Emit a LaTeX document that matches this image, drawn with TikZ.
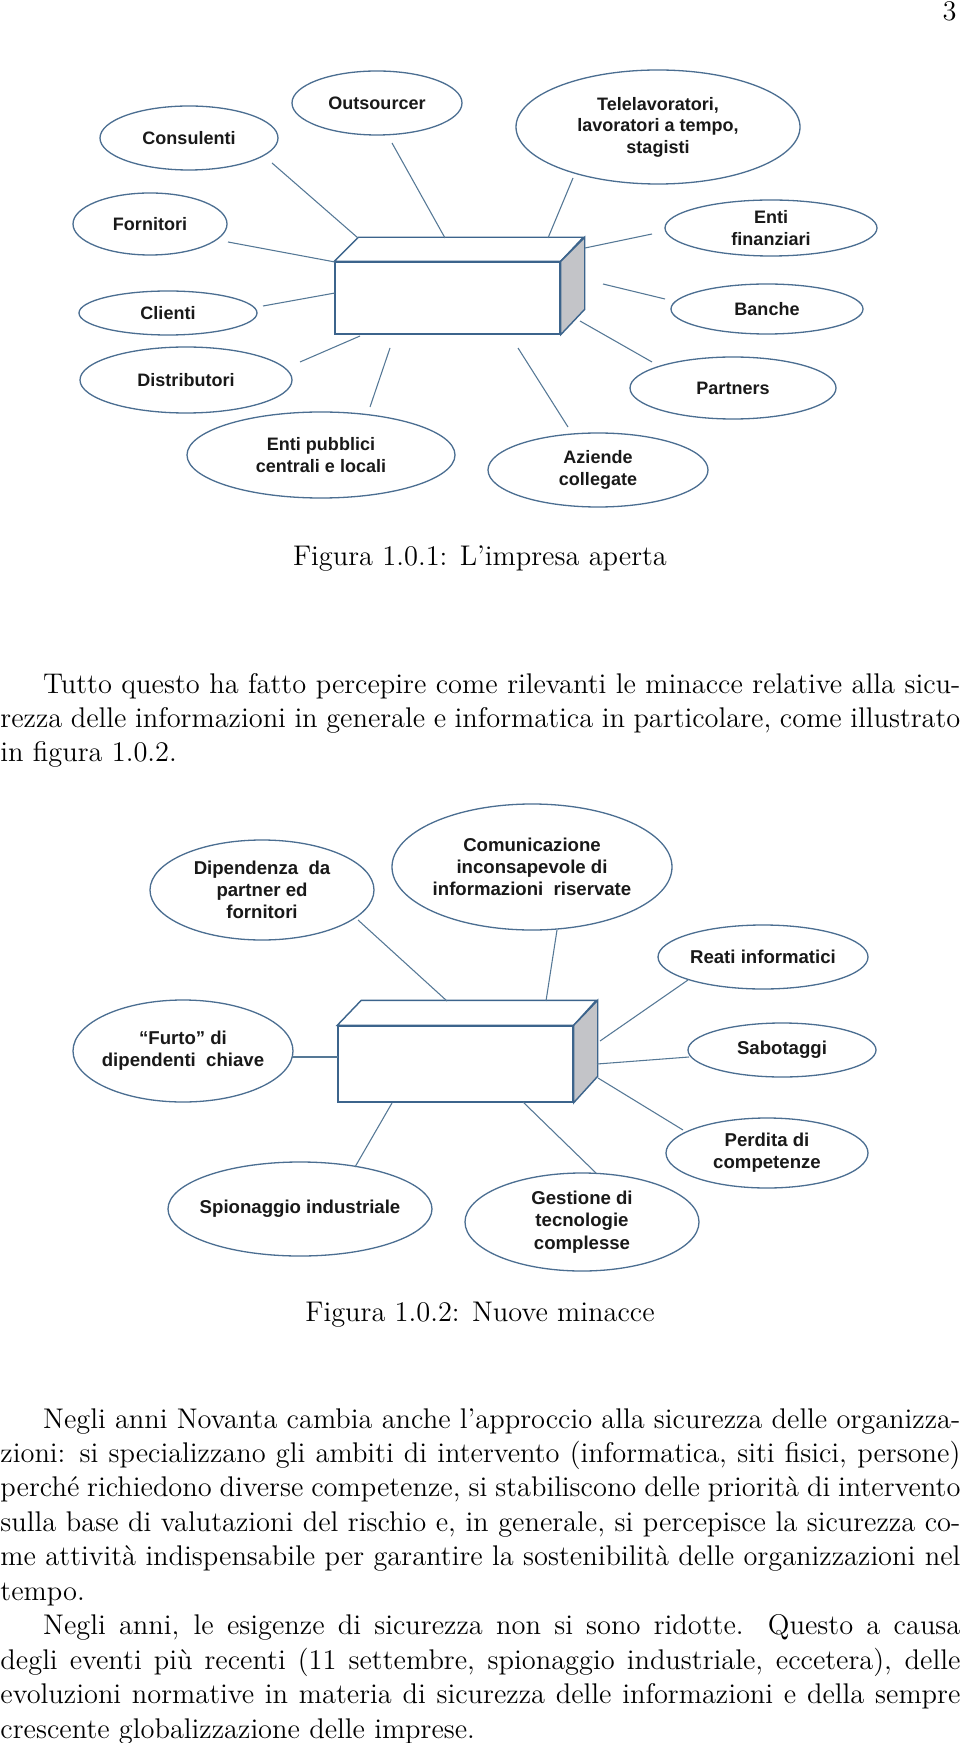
\documentclass[tikz,border=0pt]{standalone}
\usepackage{fontspec}
\newfontfamily\lsans{Liberation Sans}
\usetikzlibrary{shapes.geometric}
\definecolor{ellc}{RGB}{75,110,145}
\definecolor{linec}{RGB}{85,120,150}
\definecolor{boxc}{RGB}{60,100,140}
\definecolor{sidec}{RGB}{195,196,200}
\definecolor{txtc}{RGB}{25,25,25}
\def\px{0.4219pt}
\newcommand\ellnode[7]{%
  \node[ell,minimum width=2*#4*\px,minimum height=2*#5*\px] (#1) at (#2,#3) {};
  \node[#6] (#1t) at (#1) {#7};}
\newcommand\cnx[3]{%
  \coordinate (#1a) at (#2);
  \coordinate (#1b) at (#3);
  \draw[conn] (#1a) -- (#1b);}
\newcommand\jl[1]{\makebox[405pt][s]{#1}}
\begin{document}
\begin{tikzpicture}[x=0.4219pt,y=-0.4219pt,
 ell/.style={ellipse,draw=ellc,line width=0.55pt,fill=white,inner sep=0pt},
 etxt/.style={inner sep=0pt,align=center,text=txtc,font=\lsans\bfseries\fontsize{7.6}{9.1}\selectfont},
 etxtb/.style={inner sep=0pt,align=center,text=txtc,font=\lsans\bfseries\fontsize{7.85}{9.4}\selectfont},
 conn/.style={draw=linec,line width=0.45pt},
 boxface/.style={draw=boxc,line width=0.6pt,fill=white,line join=miter},
 rm/.style={inner sep=0pt,anchor=base west,font=\fontsize{12}{14.5}\selectfont},
]
\useasboundingbox (0,0) rectangle (960,1743);
\fill[white] (0,0) rectangle (960,1743);

\node[rm,anchor=base east] (pnum) at (957,21) {3};

% ---------- Figure 1 ----------
\node[boxface,minimum width=225*\px,minimum height=72*\px,inner sep=0pt] (box1) at (447.5,298) {};
\draw[boxface] (box1.north west) -- ++(24,-24) -- ++(225,0) -- (box1.north east) -- cycle;
\draw[boxface,fill=sidec] (box1.north east) -- ++(24,-24) -- ++(0,72) -- (box1.south east) -- cycle;

\ellnode{outs}{377}{103}{85}{32}{etxt}{Outsourcer}
\ellnode{cons}{189}{138}{89}{32}{etxt}{Consulenti}
\ellnode{forn}{150}{224}{77}{31}{etxt}{Fornitori}
\ellnode{clie}{168}{313}{89}{22}{etxt}{Clienti}
\ellnode{dist}{186}{380}{106}{33}{etxt}{Distributori}
\ellnode{entp}{321}{455}{134}{43}{etxt}{Enti pubblici\\centrali e locali}
\ellnode{tele}{658}{127}{142}{57}{etxt}{Telelavoratori,\\lavoratori a tempo,\\stagisti}
\ellnode{entf}{771}{228}{106}{28}{etxt}{Enti\\finanziari}
\ellnode{banc}{767}{309}{96}{25}{etxt}{Banche}
\ellnode{part}{733}{388}{103}{31}{etxt}{Partners}
\ellnode{azie}{598}{470}{110}{37}{etxt}{Aziende\\collegate}

\cnx{kcons}{272,163}{358,238}
\cnx{kouts}{392,143}{445,238}
\cnx{kforn}{228,242}{335,262}
\cnx{kclie}{263,306}{335,293}
\cnx{kdist}{300,362}{360,336}
\cnx{kentp}{370,407}{390,348}
\cnx{ktele}{573,178}{548,238}
\cnx{kentf}{652,234}{585,248}
\cnx{kbanc}{665,299}{603,284}
\cnx{kpart}{652,362}{580,321}
\cnx{kazie}{568,427}{518,348}

\node[rm,anchor=base] (cap1) at (480,565) {Figura 1.0.1: L’impresa aperta};

% ---------- paragraph 1 ----------
\node[rm] (p1a) at (0,693) {\jl{\hspace*{18pt}Tutto questo ha fatto percepire come rilevanti le minacce relative alla sicu-}};
\node[rm] (p1b) at (0,727.4) {\jl{rezza delle informazioni in generale e informatica in particolare, come illustrato}};
\node[rm] (p1c) at (0,761.8) {in figura 1.0.2.};

% ---------- Figure 2 ----------
\node[boxface,minimum width=235*\px,minimum height=76*\px,inner sep=0pt] (box2) at (455.5,1064) {};
\draw[boxface] (box2.north west) -- ++(24,-25) -- ++(235,0) -- (box2.north east) -- cycle;
\draw[boxface,fill=sidec] (box2.north east) -- ++(24,-25) -- ++(0,76) -- (box2.south east) -- cycle;

\ellnode{dipe}{262}{890}{112}{50}{etxtb}{Dipendenza\ \ da\\partner ed\\fornitori}
\ellnode{comu}{532}{867}{140}{63}{etxtb}{Comunicazione\\inconsapevole di\\informazioni\ \ riservate}
\ellnode{reat}{763}{957}{105}{32}{etxtb}{Reati informatici}
\ellnode{furt}{183}{1051}{110}{51}{etxtb}{“Furto” di\\dipendenti\ \ chiave}
\ellnode{sabo}{782}{1050}{94}{27}{etxtb}{Sabotaggi}
\ellnode{perd}{767}{1153}{101}{35}{etxtb}{Perdita di\\competenze}
\ellnode{spio}{300}{1209}{132}{47}{etxtb}{Spionaggio industriale}
\ellnode{gest}{582}{1222}{117}{49}{etxtb}{Gestione di\\tecnologie\\complesse}

\cnx{hdipe}{358,920}{447,1001}
\cnx{hcomu}{557,930}{546,1001}
\cnx{hreat}{688,980}{600,1041}
\cnx{hfurt}{292,1057}{338,1057}
\cnx{hsabo}{689,1057}{597,1064}
\cnx{hperd}{683,1130}{598,1078}
\cnx{hspio}{355,1167}{392,1103}
\cnx{hgest}{596,1173}{523,1102}

\node[rm,anchor=base] (cap2) at (480,1321) {Figura 1.0.2: Nuove minacce};

% ---------- paragraph 2 ----------
\node[rm] (p2a) at (0,1428) {\jl{\hspace*{18pt}Negli anni Novanta cambia anche l’approccio alla sicurezza delle organizza-}};
\node[rm] (p2b) at (0,1462.5) {\jl{zioni: si specializzano gli ambiti di intervento (informatica, siti fisici, persone)}};
\node[rm] (p2c) at (0,1496.9) {\jl{perché richiedono diverse competenze, si stabiliscono delle priorità di intervento}};
\node[rm] (p2d) at (0,1531.4) {\jl{sulla base di valutazioni del rischio e, in generale, si percepisce la sicurezza co-}};
\node[rm] (p2e) at (0,1565.8) {\jl{me attività indispensabile per garantire la sostenibilità delle organizzazioni nel}};
\node[rm] (p2f) at (0,1600.3) {tempo.};
\node[rm] (p2g) at (0,1634.8) {\jl{\hspace*{18pt}Negli anni, le esigenze di sicurezza non si sono ridotte. Questo a causa}};
\node[rm] (p2h) at (0,1669.2) {\jl{degli eventi più recenti (11 settembre, spionaggio industriale, eccetera), delle}};
\node[rm] (p2i) at (0,1703.7) {\jl{evoluzioni normative in materia di sicurezza delle informazioni e della sempre}};
\node[rm] (p2j) at (0,1738.1) {crescente globalizzazione delle imprese.};
\end{tikzpicture}
\end{document}
